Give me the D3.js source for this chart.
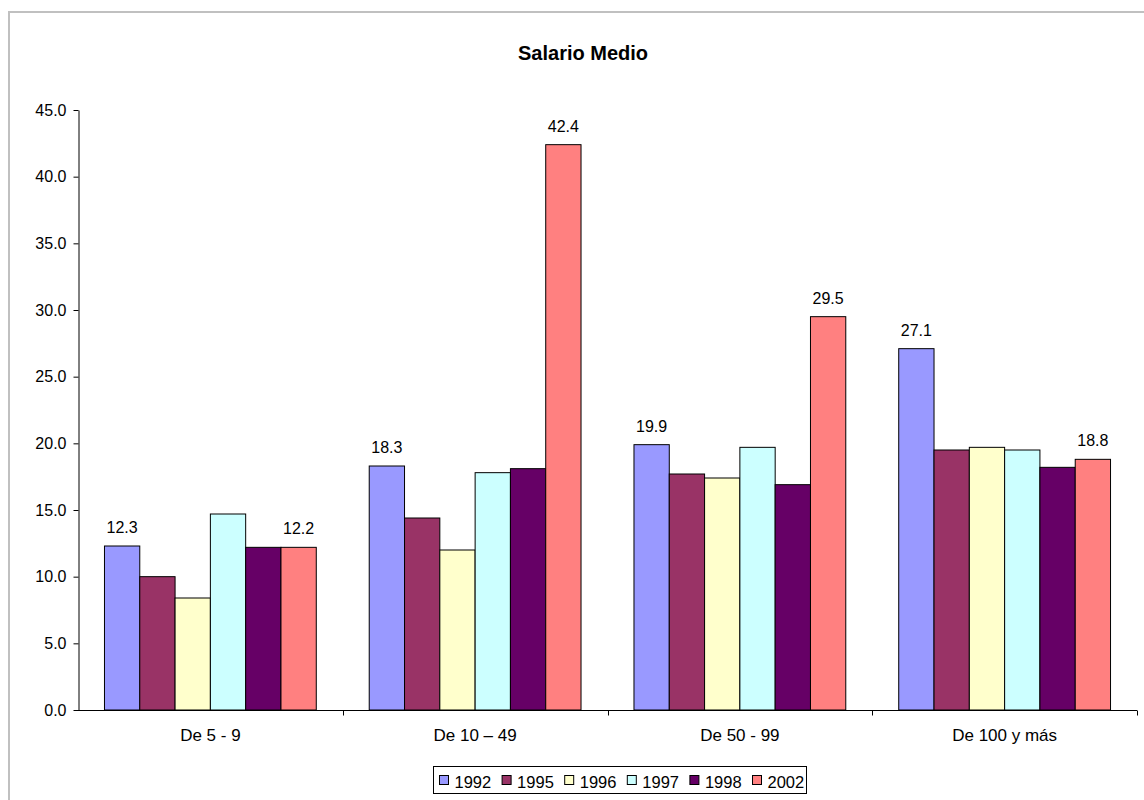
<!DOCTYPE html>
<html>
<head>
<meta charset="utf-8">
<script src="https://cdn.jsdelivr.net/npm/d3@7"></script>
<style>
  html, body { margin: 0; padding: 0; background: #fff; }
  svg { display: block; font-family: "Liberation Sans", Arial, sans-serif; }
</style>
</head>
<body>
<svg id="chart" width="1144" height="800"></svg>
<script>
// Salario medio por tamaño de empresa
const categories = ["De 5 - 9", "De 10 \u2013 49", "De 50 - 99", "De 100 y más"];
const years = ["1992", "1995", "1996", "1997", "1998", "2002"];
const v1992 = [12.3, 18.3, 19.9, 27.1];
const v1995 = [10.0, 14.4, 17.7, 19.5];
const v1996 = [8.4, 12.0, 17.4, 19.7];
const v1997 = [14.7, 17.8, 19.7, 19.5];
const v1998 = [12.2, 18.1, 16.9, 18.2];
const v2002 = [12.2, 42.4, 29.5, 18.8];
const yTicks = [0, 5, 10, 15, 20, 25, 30, 35, 40, 45];
// only these series carry value labels
const labelledYears = ["1992", "2002"];

const seriesValues = [v1992, v1995, v1996, v1997, v1998, v2002];
const colors = ["#9999FF", "#993366", "#FFFFCC", "#CCFFFF", "#660066", "#FF8080"];

const rows = [];
categories.forEach((c, ci) => {
  years.forEach((y, si) => rows.push({ cat: c, year: y, value: seriesValues[si][ci] }));
});

const svg = d3.select("#chart");

// outer chart frame
svg.append("path")
  .attr("d", "M9,800 V12 H1144")
  .attr("fill", "none")
  .attr("stroke", "#c0c0c0")
  .attr("stroke-width", 2);

const plot = { left: 78, right: 1137, top: 110, bottom: 710 };

const x0 = d3.scaleBand().domain(categories)
  .range([plot.left, plot.right]).paddingInner(0.2).paddingOuter(0.1);
const x1 = d3.scaleBand().domain(years).range([0, x0.bandwidth()]);
const y = d3.scaleLinear().domain([0, 45]).range([plot.bottom, plot.top]);
const color = d3.scaleOrdinal().domain(years).range(colors);

// title
svg.append("text")
  .attr("x", 583).attr("y", 60)
  .attr("text-anchor", "middle")
  .attr("font-size", 20).attr("font-weight", "bold")
  .text("Salario Medio");

// bars
svg.append("g").selectAll("rect")
  .data(rows).join("rect")
  .attr("x", d => x0(d.cat) + x1(d.year))
  .attr("y", d => y(d.value))
  .attr("width", x1.bandwidth())
  .attr("height", d => y(0) - y(d.value))
  .attr("fill", d => color(d.year))
  .attr("stroke", "#000")
  .attr("stroke-width", 1);

// value labels
svg.append("g").selectAll("text")
  .data(rows.filter(d => labelledYears.includes(d.year))).join("text")
  .attr("x", d => x0(d.cat) + x1(d.year) + x1.bandwidth() / 2)
  .attr("y", d => y(d.value) - 13)
  .attr("text-anchor", "middle")
  .attr("font-size", 16)
  .attr("fill", "#000")
  .text(d => d.value.toFixed(1));

// y axis
const yAxis = svg.append("g")
  .attr("transform", `translate(${plot.left + 0.5},0)`)
  .call(d3.axisLeft(y).tickValues(yTicks).tickFormat(d3.format(".1f")).tickSize(5).tickPadding(7).tickSizeOuter(0));
yAxis.select(".domain").attr("stroke", "#000");
yAxis.selectAll("line").attr("stroke", "#000");
yAxis.selectAll("text").attr("font-size", 16).attr("fill", "#000")
  .attr("font-family", "'Liberation Sans', Arial, sans-serif");

// x axis with ticks at category boundaries
const xAxis = svg.append("g")
  .attr("transform", `translate(0,${plot.bottom + 0.5})`);
xAxis.append("line")
  .attr("x1", plot.left).attr("x2", plot.right)
  .attr("stroke", "#000");
const step = x0.step();
const boundaries = categories.map((c, i) => plot.left + step * (i + 1));
xAxis.selectAll("line.tick").data(boundaries).join("line")
  .attr("class", "tick")
  .attr("x1", d => Math.round(d) + 0.5).attr("x2", d => Math.round(d) + 0.5)
  .attr("y1", 0).attr("y2", 5)
  .attr("stroke", "#000");
xAxis.selectAll("text").data(categories).join("text")
  .attr("x", d => x0(d) + x0.bandwidth() / 2)
  .attr("y", 30.5)
  .attr("text-anchor", "middle")
  .attr("font-size", 17)
  .text(d => d);

// legend
const legend = svg.append("g");
legend.append("rect")
  .attr("x", 433.5).attr("y", 766.5)
  .attr("width", 373).attr("height", 27)
  .attr("fill", "#fff").attr("stroke", "#000");
const item = legend.selectAll("g.item").data(years).join("g")
  .attr("class", "item")
  .attr("transform", (d, i) => `translate(${439.5 + i * 62.6},0)`);
item.append("rect")
  .attr("x", 0).attr("y", 775.5)
  .attr("width", 9).attr("height", 9)
  .attr("fill", d => color(d))
  .attr("stroke", "#000");
item.append("text")
  .attr("x", 15).attr("y", 787.5)
  .attr("font-size", 16.5)
  .text(d => d);
</script>
</body>
</html>
